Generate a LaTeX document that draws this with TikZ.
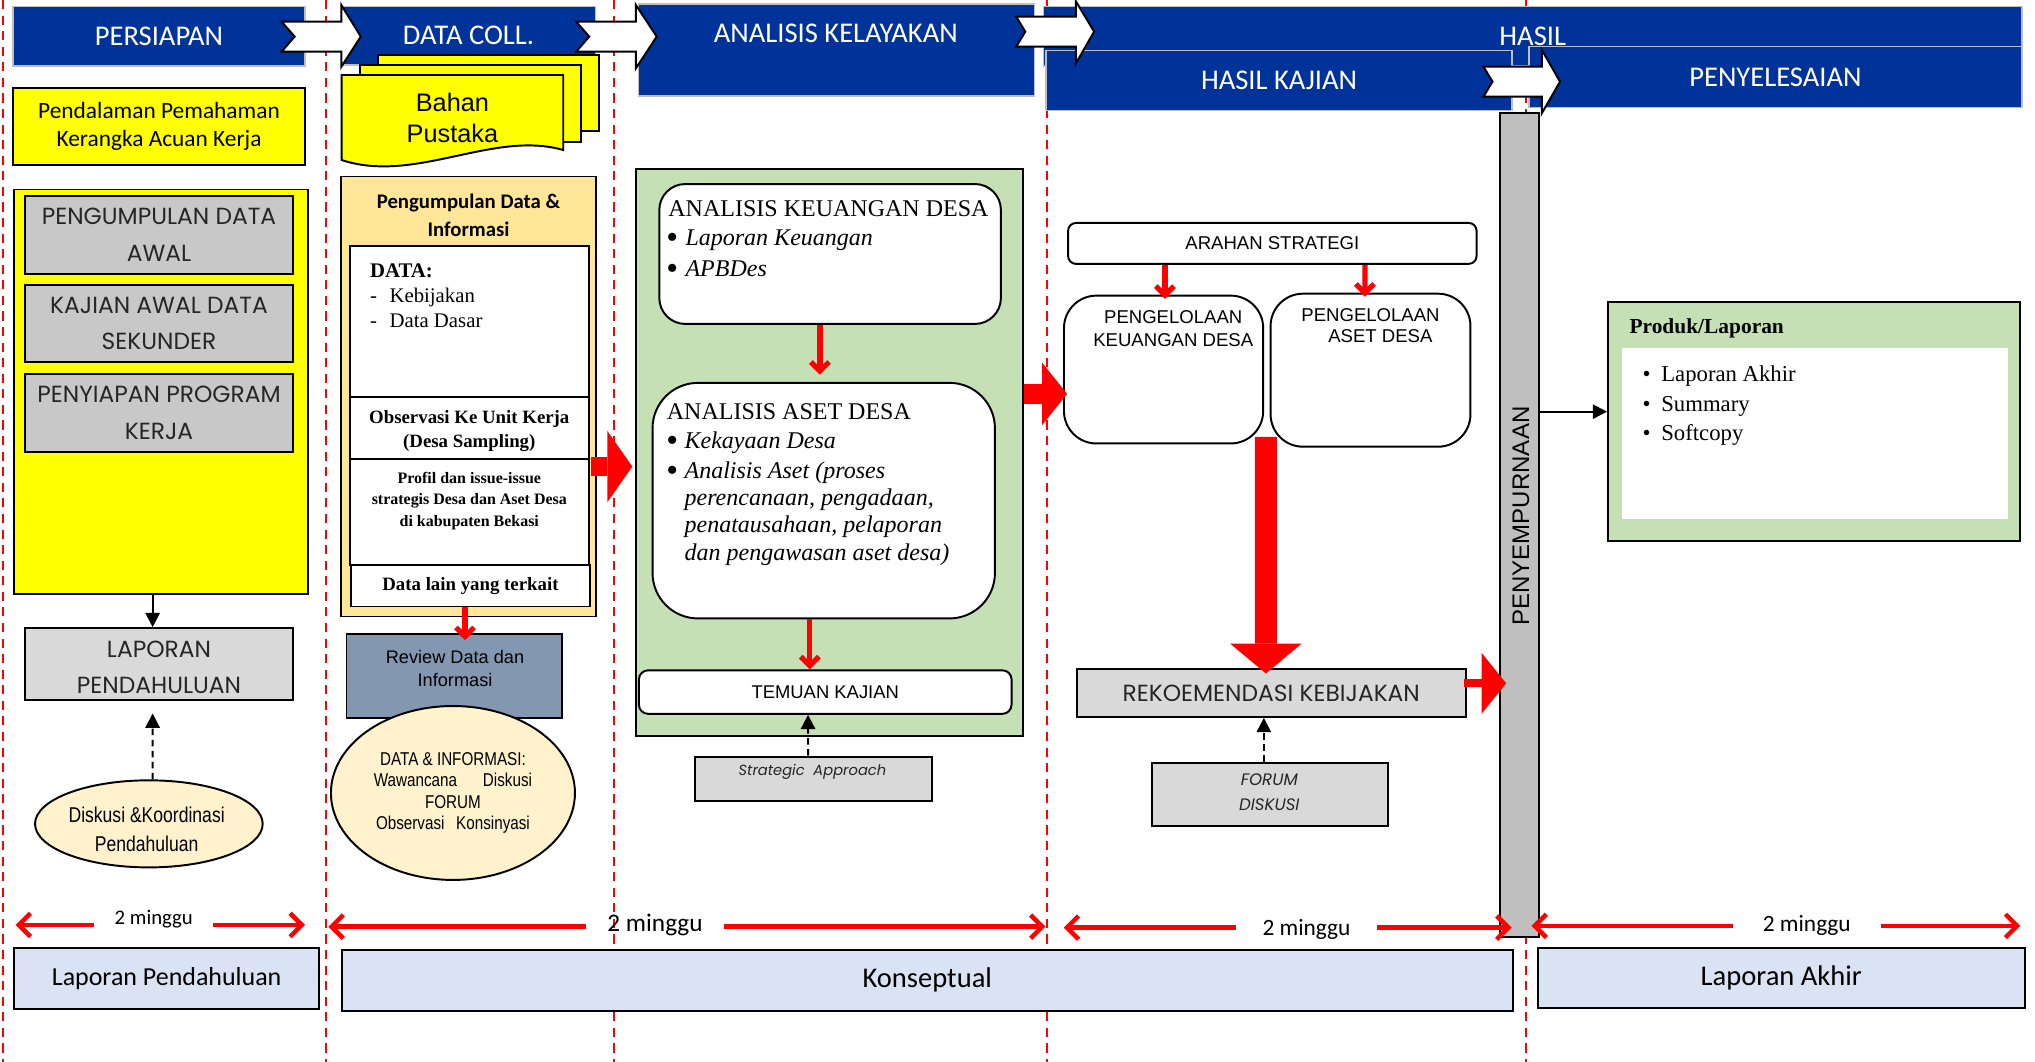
\documentclass[tikz,border=0pt]{standalone}
\usepackage{fontspec}
\usepackage{graphicx}
\setmainfont{Liberation Serif}
\newfontfamily\calfont{Carlito}
\newfontfamily\arialfont{Liberation Sans}
\newfontfamily\narrowfont{Liberation Sans}[FakeStretch=0.82]
\newfontfamily\gothfont{Poppins}
\usetikzlibrary{arrows.meta,calc,shapes.geometric}
\newcommand\fsz[2]{\fontsize{#1}{#2}\selectfont}
\newcommand\bigbul{\raisebox{-2.2pt}{\fontsize{26}{26}\selectfont\textbullet}}

\definecolor{hblue}{RGB}{0,51,153}
\definecolor{yel}{RGB}{255,255,0}
\definecolor{gbox}{RGB}{200,200,200}
\definecolor{lgrey}{RGB}{217,217,217}
\definecolor{orng}{RGB}{255,230,153}
\definecolor{grn}{RGB}{197,224,180}
\definecolor{cream}{RGB}{255,242,204}
\definecolor{slate}{RGB}{132,151,176}
\definecolor{barg}{RGB}{191,191,191}
\definecolor{lblue}{RGB}{218,227,243}
\definecolor{hdrline}{RGB}{190,190,190}
\definecolor{gtext}{RGB}{38,38,38}

\tikzset{
  box/.style={draw=black, line width=1.5pt, inner sep=0pt, rectangle},
  hdr/.style={draw=hdrline, line width=1.2pt, fill=hblue, inner sep=0pt, text=white, font=\calfont\fsz{22}{26}},
  chev/.style={draw=black, line width=1.5pt, fill=white, line join=miter},
  reddash/.style={draw=red, line width=1.5pt, dash pattern=on 7pt off 5pt},
  redarr/.style={draw=red, line width=4pt, -{Straight Barb[length=7pt,width=14pt]}},
  blockarr/.style n args={3}{draw=red, line width=#1, -{Triangle[length=#3,width=#2,line width=0pt]}},
  blkarr/.style={draw=black, line width=1.5pt, -{Triangle[length=11pt,width=11pt]}},
  dsharr/.style={draw=black, line width=1.5pt, dash pattern=on 5pt off 3.5pt, -{Triangle[length=11pt,width=11pt]}},
  tl/.style={draw=red, line width=3.5pt, -{Straight Barb[length=9pt,width=18pt]}},
  txt/.style={inner sep=0pt},
  goth/.style={text=gtext, font=\gothfont\fsz{18}{28}},
}

\begin{document}
\begin{tikzpicture}[x=1pt,y=-1pt]
\useasboundingbox[fill=white] (0,0) rectangle (1568,818);

% ---------- red dashed phase separators
\foreach \xx/\nm in {2/d1,251.3/d2,473/d3,806.5/d4,1176/d5}{
  \coordinate (\nm-t) at (\xx,0);
  \coordinate (\nm-b) at (\xx,818);
  \draw[reddash] (\nm-t) -- (\nm-b);
}

% ---------- headers
\node[hdr, minimum width=225, minimum height=46] (hPers) at (122.5,28) {PERSIAPAN};
\node[hdr, minimum width=196, minimum height=45] (hData) at (361,27.5) {DATA COLL.};
\node[hdr, minimum width=754, minimum height=46] (hHasil) at (1181,28) {HASIL};
\node[hdr, minimum width=305, minimum height=71] (hAna) at (644.5,38.5) {};
\node[txt, text=white, font=\calfont\fsz{22}{26}] (hAnaT) at (644,25.7) {ANALISIS KELAYAKAN};
\node[hdr, minimum width=359, minimum height=46] (hKaj) at (985.5,62) {HASIL KAJIAN};
\node[hdr, minimum width=380, minimum height=47] (hPeny) at (1368,59.5) {PENYELESAIAN};

% ---------- chevrons
\draw[chev] (217,16.7) -- (263,16.7) -- (263,3.9) -- (278,28.2) -- (263,51.4) -- (263,39.8) -- (217,39.8) -- (227,28.2) -- cycle;
\draw[chev] (444,16.7) -- (490,16.7) -- (490,3.9) -- (506,28.2) -- (490,52.6) -- (490,39.8) -- (444,39.8) -- (454,28.2) -- cycle;
\draw[chev] (783,12.8) -- (829,12.8) -- (829,1) -- (843,24.4) -- (829,48.8) -- (829,36) -- (783,36) -- (790,24.4) -- cycle;
\draw[chev] (1143,51.4) -- (1188,51.4) -- (1188,38.5) -- (1202,62.9) -- (1188,87.3) -- (1188,74.5) -- (1143,74.5) -- (1150,62.9) -- cycle;

% ---------- column 1 : PERSIAPAN
\node[box, fill=yel, minimum width=225, minimum height=59, align=center, font=\calfont\fsz{18}{22}] (pend) at (122.5,97.5) {Pendalaman Pemahaman\\Kerangka Acuan Kerja};
\node[box, fill=yel, minimum width=226, minimum height=312] (ybig) at (124,302) {};
\node[box, fill=gbox, minimum width=207, minimum height=60, align=center, goth] (g1) at (122.5,180.85) {PENGUMPULAN DATA\\AWAL};
\node[box, fill=gbox, minimum width=207, minimum height=59.4, align=center, goth] (g2) at (122.5,249.3) {KAJIAN AWAL DATA\\SEKUNDER};
\node[box, fill=gbox, minimum width=207, minimum height=60, align=center, goth] (g3) at (122.5,318) {PENYIAPAN PROGRAM\\KERJA};
\node[box, fill=lgrey, minimum width=207, minimum height=55] (lapP) at (122.5,511.5) {};
\node[txt, align=center, goth] (lapPT) at (122.5,514) {LAPORAN\\PENDAHULUAN};
\node[ellipse, draw=black, line width=1.5pt, fill=cream, minimum width=175.4, minimum height=67.1, inner sep=0pt] (disk) at (114.7,634.8) {};
\node[txt, align=center, font=\narrowfont\fsz{16.5}{22.2}] (diskT) at (113,639) {Diskusi \&Koordinasi\\Pendahuluan};
\draw[blkarr] ($(ybig.south)+(-6.4,0)$) -- ($(lapP.north)+(-4.9,0)$);
\draw[dsharr] ($(disk.north)+(2.9,0)$) -- ($(lapP.south)+(-4.9,10)$);

% ---------- column 2 : DATA COLL.
\node[box, fill=yel, minimum width=170.3, minimum height=58.3] (bp3) at (376.65,71.55) {};
\node[box, fill=yel, minimum width=170, minimum height=59.1] (bp2) at (362.4,79.65) {};
\draw[box, fill=yel] (263.2,57.8) -- (434,57.8) -- (434,115.6) .. controls (380,100) and (320,142) .. (263.2,123.3) -- cycle;
\node[txt, align=center, font=\arialfont\fsz{19.5}{23.7}] (bpT) at (348.6,91) {Bahan\\Pustaka};

\node[box, fill=orng, minimum width=196, minimum height=339] (peng) at (361,305.5) {};
\node[txt, align=center, font=\calfont\bfseries\fsz{16}{21.6}] (pengT) at (361,166) {Pengumpulan Data \&\\Informasi};
\node[box, fill=white, line width=1.2pt, minimum width=184.3, minimum height=116.3] (dataB) at (361.85,247.55) {};
\node[txt, anchor=base west, font=\bfseries\fsz{16}{19}] (dataT1) at (285,213.5) {DATA:};
\node[txt, anchor=base west, font=\fsz{16}{19}] (dataT2) at (285,233) {\makebox[15pt][l]{-}Kebijakan};
\node[txt, anchor=base west, font=\fsz{16}{19}] (dataT3) at (285,252) {\makebox[15pt][l]{-}Data Dasar};
\node[box, fill=white, line width=1.2pt, minimum width=184.3, minimum height=48.1] (obsB) at (361.85,329.75) {};
\node[txt, align=center, font=\bfseries\fsz{14.5}{18.2}] (obsT) at (361.6,332) {Observasi Ke Unit Kerja\\(Desa Sampling)};
\node[box, fill=white, line width=1.2pt, minimum width=184.3, minimum height=81.6] (profB) at (361.85,394.6) {};
\node[txt, align=center, font=\bfseries\fsz{12.3}{16.8}] (profT) at (361.6,386) {Profil dan issue-issue\\strategis Desa dan Aset Desa\\di kabupaten Bekasi};
\node[box, fill=white, line width=1.2pt, minimum width=184.2, minimum height=31.9, font=\bfseries\fsz{14.5}{17}] (lainB) at (362.5,451.35) {Data lain yang terkait};

\node[box, fill=slate, minimum width=166, minimum height=64.3] (review) at (350,520.85) {};
\node[txt, align=center, font=\arialfont\fsz{14}{17.8}] (reviewT) at (350.6,515) {Review Data dan\\Informasi};
\node[ellipse, draw=black, line width=1.5pt, fill=cream, minimum width=188, minimum height=134, inner sep=0pt] (dinfo) at (349,611) {};
\node[txt, align=center, font=\narrowfont\fsz{14.3}{16.6}] (dinfoT) at (349,611) {DATA \& INFORMASI:\\Wawancana\hspace{20pt}Diskusi\\FORUM\\Observasi\hspace{9pt}Konsinyasi};
\draw[redarr] ($(lainB.south)+(-4.2,0)$) -- ($(review.north)+(8.3,5.3)$);

% ---------- column 3 : ANALISIS KELAYAKAN
\node[box, fill=grn, minimum width=298.6, minimum height=436.7] (green) at (639.1,348.65) {};
\node[box, fill=white, rounded corners=20pt, minimum width=263.2, minimum height=107.8] (akd) at (639.6,195.7) {};
\node[txt, anchor=base west, font=\fsz{18.5}{23}] (akdT1) at (514.8,167.1) {ANALISIS KEUANGAN DESA};
\node[txt, anchor=base west, font=\fsz{18.5}{23}] (akdT2) at (513.3,189) {\makebox[14.7pt][l]{\bigbul}\textit{Laporan Keuangan}};
\node[txt, anchor=base west, font=\fsz{18.5}{23}] (akdT3) at (513.3,213) {\makebox[14.7pt][l]{\bigbul}\textit{APBDes}};

\node[box, fill=white, rounded corners=35pt, minimum width=263.8, minimum height=181.5] (aad) at (634.7,385.75) {};
\node[txt, anchor=base west, font=\fsz{18.5}{23}] (aadT1) at (513.6,323.4) {ANALISIS ASET DESA};
\node[txt, anchor=base west, font=\fsz{18.5}{23}] (aadT2) at (513.3,345.5) {\makebox[14pt][l]{\bigbul}\textit{Kekayaan Desa}};
\node[txt, anchor=base west, font=\fsz{18.5}{23}] (aadT3) at (513.3,368.6) {\makebox[14pt][l]{\bigbul}\textit{Analisis Aset (proses}};
\node[txt, anchor=base west, font=\itshape\fsz{18.5}{23}] (aadT4) at (527.3,389.6) {perencanaan, pengadaan,};
\node[txt, anchor=base west, font=\itshape\fsz{18.5}{23}] (aadT5) at (527.3,410.5) {penatausahaan, pelaporan};
\node[txt, anchor=base west, font=\itshape\fsz{18.5}{23}] (aadT6) at (527.3,431.8) {dan pengawasan aset desa)};

\node[box, fill=white, rounded corners=7pt, minimum width=287.1, minimum height=33.5, font=\arialfont\fsz{14.2}{17}] (temuan) at (635.85,533.25) {TEMUAN KAJIAN};
\node[box, fill=lgrey, minimum width=182.3, minimum height=34] (strat) at (626.65,600) {};
\node[txt, text=gtext, font=\gothfont\itshape\fsz{11.3}{14}] (stratT) at (626,594.8) {Strategic\ \ Approach};

\draw[redarr] ($(akd.south)+(-7.8,0)$) -- ($(aad.north)+(-2.9,-5.5)$);
\draw[redarr] ($(aad.south)+(-10.7,0)$) -- ($(temuan.north)+(-11.85,0)$);
\draw[dsharr] ($(strat.north)+(-4,0)$) -- ($(temuan.south)+(-13.25,0)$);

\coordinate (ya) at (0,359.5);
\draw[blockarr={14pt}{55pt}{19.3pt}] ($(peng.east |- ya)+(-4.4,0)$) -- ($(green.west |- ya)+(-1.8,0)$);

% ---------- column 4 : HASIL KAJIAN
\node[box, fill=white, rounded corners=6pt, minimum width=314.7, minimum height=31.5, font=\arialfont\fsz{14.3}{17}] (arahan) at (980.35,187.55) {ARAHAN STRATEGI};
\node[box, fill=white, rounded corners=25pt, minimum width=153.5, minimum height=113.9] (pk) at (896.55,284.75) {};
\node[txt, align=center, font=\arialfont\fsz{14.3}{17.5}] (pkT) at (904,253) {PENGELOLAAN\\KEUANGAN DESA};
\node[box, fill=white, rounded corners=25pt, minimum width=154, minimum height=117.9] (pa) at (1056,285.25) {};
\node[txt, font=\arialfont\fsz{14.3}{17.5}] (paT1) at (1056,243) {PENGELOLAAN};
\node[txt, font=\arialfont\fsz{14.3}{17.5}] (paT2) at (1063.6,259.3) {ASET DESA};

\draw[redarr] ($(arahan.south)+(-82.75,0)$) -- ($(pk.north)+(1.05,3.2)$);
\draw[redarr] ($(arahan.south)+(71.35,0)$) -- ($(pa.north)+(-4.3,3.1)$);

\coordinate (yb) at (0,303.5);
\draw[blockarr={16pt}{48pt}{19.2pt}] (green.east |- yb) -- ($(pk.west |- yb)+(3.2,0)$);

\node[box, fill=lgrey, minimum width=300, minimum height=36.8, text=gtext, font=\gothfont\fsz{18}{21}] (rek) at (979.5,534) {REKOEMENDASI KEBIJAKAN};
\node[box, fill=lgrey, minimum width=181.8, minimum height=48.8] (forum) at (978.2,612.2) {};
\node[txt, align=center, text=gtext, font=\gothfont\itshape\fsz{12.8}{19.8}] (forumT) at (978,610.4) {FORUM\\DISKUSI};
\draw[dsharr] ($(forum.north)+(-4.4,0)$) -- ($(rek.south)+(-5.7,0)$);

\draw[blockarr={17pt}{55pt}{23pt}] ($($(pk.south east)!0.5!(pa.south west)$)+(-0.8,-7)$) -- ($(rek.north)+(-4.1,4.1)$);

% ---------- PENYEMPURNAAN bar and final column
\node[box, fill=barg, minimum width=30.4, minimum height=634.4] (bar) at (1170.9,404.5) {};
\node[txt, rotate=90, font=\arialfont\fsz{18.5}{22}] (barT) at (1172,397.6) {PENYEMPURNAAN};

\coordinate (yc) at (0,526.5);
\draw[blockarr={6pt}{47pt}{19pt}] ($(rek.east |- yc)+(-2.5,0)$) -- ($(bar.west |- yc)+(5.6,0)$);

\node[box, fill=grn, minimum width=317.7, minimum height=184.2] (produk) at (1397.85,324.5) {};
\node[fill=white, inner sep=0pt, minimum width=297.6, minimum height=131.5] (prodIn) at (1398.2,334.15) {};
\node[txt, anchor=base west, font=\bfseries\fsz{16.5}{20}] (prodT) at (1255.4,257.3) {Produk/Laporan};
\node[txt, anchor=base west, font=\fsz{17.5}{22}] (prodB1) at (1265.4,294.2) {\makebox[14.5pt][l]{\textbullet}Laporan Akhir};
\node[txt, anchor=base west, font=\fsz{17.5}{22}] (prodB2) at (1265.4,316.7) {\makebox[14.5pt][l]{\textbullet}Summary};
\node[txt, anchor=base west, font=\fsz{17.5}{22}] (prodB3) at (1265.4,339.4) {\makebox[14.5pt][l]{\textbullet}Softcopy};

\coordinate (yd) at (0,317.2);
\draw[blkarr] (bar.east |- yd) -- (produk.west |- yd);

% ---------- timeline
\node[txt, minimum width=91, font=\calfont\fsz{16}{19}] (m1) at (118.5,708) {2 minggu};
\coordinate (m1L) at (12,712.7); \coordinate (m1R) at (235,712.7);
\draw[tl] (m1.west |- m1L) -- (m1L);
\draw[tl] (m1.east |- m1R) -- (m1R);

\node[txt, minimum width=106.6, font=\calfont\fsz{19.5}{23}] (m2) at (504.7,713) {2 minggu};
\coordinate (m2L) at (253,714); \coordinate (m2R) at (805.6,714);
\draw[tl] (m2.west |- m2L) -- (m2L);
\draw[tl] (m2.east |- m2R) -- (m2R);

\node[txt, minimum width=107.9, font=\calfont\fsz{18}{21}] (m3) at (1006.65,716.5) {2 minggu};
\coordinate (m3L) at (819.6,714.7); \coordinate (m3R) at (1164.7,714.7);
\draw[tl] (m3.west |- m3L) -- (m3L);
\draw[tl] (m3.east |- m3R) -- (m3R);

\node[txt, minimum width=113.3, font=\calfont\fsz{18}{21}] (m4) at (1392.15,713.4) {2 minggu};
\coordinate (m4L) at (1180,713.4); \coordinate (m4R) at (1556.7,713.4);
\draw[tl] (m4.west |- m4L) -- (m4L);
\draw[tl] (m4.east |- m4R) -- (m4R);

\node[box, fill=lblue, minimum width=235.2, minimum height=47, font=\calfont\fsz{20}{24}] (lpB) at (128.4,754.1) {Laporan Pendahuluan};
\node[box, fill=lblue, minimum width=902.4, minimum height=46.7, font=\calfont\fsz{22}{26}] (konB) at (714.5,755.35) {Konseptual};
\node[box, fill=lblue, minimum width=375, minimum height=46.3, font=\calfont\fsz{22}{26}] (lakB) at (1372.5,753.75) {Laporan Akhir};
\end{tikzpicture}
\end{document}
